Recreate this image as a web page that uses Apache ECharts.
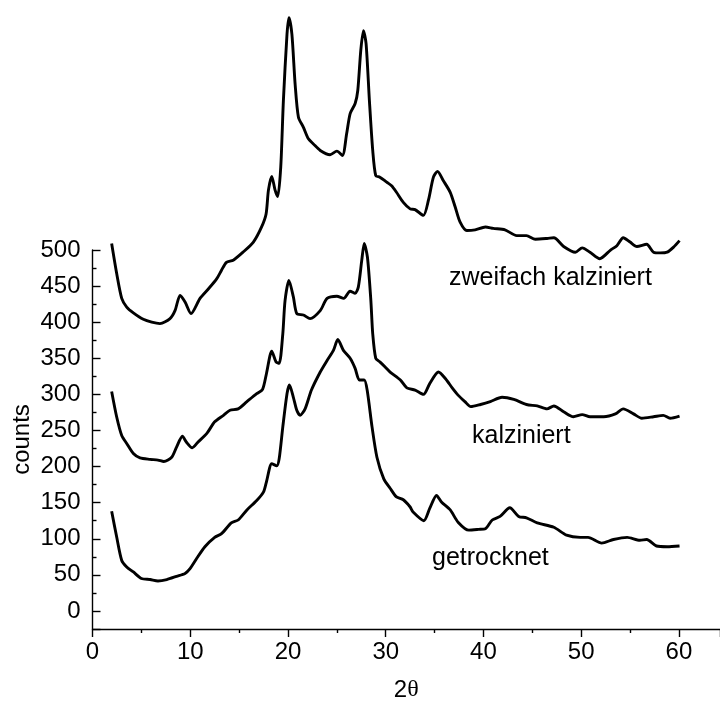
<!DOCTYPE html>
<html>
<head>
<meta charset="utf-8">
<script src="https://cdn.jsdelivr.net/npm/echarts@6/dist/echarts.min.js"></script>
<style>html,body{margin:0;padding:0;background:#fff}#c{width:720px;height:702px}</style>
</head>
<body>
<div id="c"></div>
<script>
// ---- data ----
const xZweifach = [1.96, 2.48, 2.99, 3.5, 4.18, 5.2, 6.06, 6.9, 7.93, 8.44, 8.96, 9.47, 10.08, 11.0, 11.85, 12.7, 13.2, 13.7, 14.4, 15.4, 16.46, 17.3, 17.76, 18.0, 18.34, 18.68, 18.95, 19.26, 19.53, 19.9, 20.1, 20.4, 20.73, 21.07, 21.58, 22.09, 22.6, 23.3, 24.3, 25.0, 25.57, 26.0, 26.36, 26.87, 27.14, 27.45, 27.72, 27.99, 28.33, 28.67, 28.98, 29.4, 30.1, 30.6, 31.1, 31.8, 32.5, 33.0, 33.86, 34.37, 34.88, 35.3, 35.9, 36.6, 37.1, 37.6, 38.3, 39.15, 40.2, 41.0, 42.2, 43.4, 44.4, 45.3, 46.5, 47.2, 48.2, 49.4, 50.1, 50.9, 51.9, 53.0, 53.65, 54.3, 55.0, 55.7, 56.7, 57.4, 58.1, 58.8, 59.45, 60.06];
const yZweifach = [509, 467, 433, 421, 413, 404, 400, 398, 405, 416, 437, 428, 412, 433, 446, 460, 472, 483, 486, 497, 511, 532, 550, 583, 602, 583, 574, 615, 707, 799, 822, 799, 730, 684, 670, 654, 647, 638, 632, 637, 631, 661, 689, 703, 721, 777, 804, 786, 707, 638, 603, 601, 594, 589, 580, 566, 557, 556, 548, 569, 601, 609, 596, 580, 560, 539, 527, 528, 532, 530, 528, 520, 520, 515, 516, 517, 505, 497, 503, 497, 488, 500, 506, 517, 511, 505, 508, 497, 496, 497, 504, 513];

const xKalziniert = [1.96, 2.47, 2.99, 3.5, 4.18, 4.86, 5.9, 6.7, 7.3, 8.1, 8.6, 9.2, 9.6, 10.2, 10.8, 11.7, 12.5, 13.4, 14.07, 14.9, 15.8, 16.8, 17.4, 17.8, 18.34, 18.78, 19.1, 19.47, 19.7, 20.1, 20.55, 20.9, 21.58, 22.26, 23.3, 24.0, 25.0, 25.7, 26.35, 26.87, 27.2, 27.55, 27.8, 28.13, 28.48, 28.67, 28.98, 29.4, 29.94, 30.45, 31.5, 32.16, 33.0, 33.86, 34.5, 35.4, 36.1, 36.8, 37.4, 38.1, 38.7, 39.7, 40.7, 41.9, 43.1, 44.4, 45.5, 46.5, 47.2, 48.2, 49.2, 50.1, 50.9, 52.3, 53.5, 54.3, 55.35, 56.2, 57.4, 58.4, 59.1, 60.06];
const yKalziniert = [304, 269, 243, 232, 218, 212, 210, 209, 207, 213, 227, 242, 234, 226, 234, 246, 262, 271, 278, 280, 290, 301, 307, 329, 360, 345, 343, 384, 430, 458, 435, 412, 410, 405, 416, 433, 436, 433, 443, 440, 449, 486, 509, 490, 430, 384, 350, 345, 338, 331, 320, 309, 306, 300, 315, 331, 322, 309, 299, 290, 283, 286, 290, 296, 293, 286, 284, 280, 284, 276, 269, 272, 269, 269, 273, 280, 273, 267, 269, 271, 267, 270];

const xGetrocknet = [1.96, 2.48, 2.99, 3.5, 4.18, 5.0, 5.9, 6.7, 7.6, 8.6, 9.47, 10.0, 10.67, 11.5, 12.5, 13.2, 14.2, 14.9, 15.8, 16.8, 17.5, 17.8, 18.34, 18.85, 19.1, 19.47, 19.9, 20.15, 20.55, 20.9, 21.24, 21.75, 22.4, 23.3, 24.0, 24.65, 25.1, 25.67, 26.36, 26.87, 27.3, 27.8, 28.1, 28.6, 29.1, 29.8, 30.45, 31.1, 31.8, 32.5, 32.8, 33.9, 34.5, 35.2, 35.7, 36.6, 37.4, 38.5, 39.5, 40.2, 40.9, 41.7, 42.7, 43.6, 44.4, 45.5, 47.2, 48.5, 49.9, 50.7, 52.1, 53.3, 54.7, 56.0, 56.7, 57.7, 58.8, 60.06];
const yGetrocknet = [138, 102, 70, 61, 54, 45, 43.5, 41.6, 43.5, 48, 52, 59, 73, 89, 102, 107, 122, 126, 140, 153, 165, 179, 204, 201, 211, 255, 301, 313, 296, 278, 271, 280, 306, 331, 347, 361, 376, 361, 350, 336, 320, 320, 306, 255, 213, 183, 170, 158, 154, 144, 137, 125, 142, 160, 151, 140, 123, 112, 113, 114, 126, 131, 143, 131, 129, 122, 116, 105, 102, 102, 94, 99, 102, 98, 99, 90, 89, 90];

const seriesNames = ['zweifach kalziniert', 'kalziniert', 'getrocknet'];
const xTickLabels = [0, 10, 20, 30, 40, 50, 60];
const yTickLabels = [0, 50, 100, 150, 200, 250, 300, 350, 400, 450, 500];

// ---- build ----
function pairs(xs, ys) { return xs.map((x, i) => [x, ys[i]]); }
const FONT = 'Liberation Sans, Arial, sans-serif';
const chart = echarts.init(document.getElementById('c'), null, { renderer: 'canvas' });

const lineStyle = { color: '#000', width: 2.9 };
function mkSeries(name, xs, ys) {
  return {
    name, type: 'line', xAxisIndex: 0, yAxisIndex: 0,
    data: pairs(xs, ys), showSymbol: false, symbol: 'none',
    smooth: 0.25, lineStyle, clip: false, silent: true
  };
}

chart.setOption({
  animation: false,
  backgroundColor: '#fff',
  grid: [
    { left: 92.5, right: 0, top: 1, bottom: 73, containLabel: false, outerBoundsMode: 'none' },
    { left: 92.5, right: 0, top: 250, bottom: 73, containLabel: false, outerBoundsMode: 'none' }
  ],
  xAxis: [
    {
      gridIndex: 0, type: 'value', min: 0, max: 64.2, interval: 10,
      name: '{a|2}{b|θ}', nameLocation: 'middle', nameGap: 49, nameMoveOverlap: false,
      nameTextStyle: { rich: { a: { fontSize: 24, fontFamily: FONT, color: '#000' }, b: { fontSize: 24, fontFamily: 'Liberation Serif, serif', color: '#000' } } },
      axisLine: { show: true, onZero: false, lineStyle: { color: '#000', width: 1.4 } },
      axisTick: { show: true, inside: false, length: 8, lineStyle: { color: '#000', width: 1.4 } },
      minorTick: { show: true, splitNumber: 2, length: 4, lineStyle: { color: '#000', width: 1.4 } },
      axisLabel: {
        margin: 11, fontSize: 24, fontFamily: FONT, color: '#000',
        formatter: v => (xTickLabels.indexOf(Math.round(v * 1000) / 1000) >= 0 ? String(v) : '')
      },
      splitLine: { show: false }, minorSplitLine: { show: false }
    },
    { gridIndex: 1, type: 'value', min: 0, max: 64.2, show: false }
  ],
  yAxis: [
    { gridIndex: 0, type: 'value', min: -25, max: 845, show: false, splitLine: { show: false } },
    {
      gridIndex: 1, type: 'value', min: -25, max: 500, splitNumber: 10,
      name: 'counts', nameLocation: 'middle', nameGap: 58, nameMoveOverlap: false,
      nameTextStyle: { fontSize: 24, fontFamily: FONT, color: '#000' },
      axisLine: { show: true, onZero: false, lineStyle: { color: '#000', width: 1.4 } },
      axisTick: { show: true, inside: true, length: 8, lineStyle: { color: '#000', width: 1.4 } },
      minorTick: { show: true, splitNumber: 2, length: 4, lineStyle: { color: '#000', width: 1.4 } },
      axisLabel: {
        margin: 12, fontSize: 24, fontFamily: FONT, color: '#000',
        formatter: v => (yTickLabels.indexOf(Math.round(v)) >= 0 && v >= 0 ? String(Math.round(v)) : '')
      },
      splitLine: { show: false }, minorSplitLine: { show: false }
    }
  ],
  graphic: [
    { type: 'text', left: 449, top: 266, style: { text: seriesNames[0], font: '25px ' + FONT, fill: '#000' } },
    { type: 'text', left: 472, top: 424, style: { text: seriesNames[1], font: '25px ' + FONT, fill: '#000' } },
    { type: 'text', left: 432, top: 546, style: { text: seriesNames[2], font: '25px ' + FONT, fill: '#000' } }
  ],
  series: [
    mkSeries(seriesNames[0], xZweifach, yZweifach),
    mkSeries(seriesNames[1], xKalziniert, yKalziniert),
    mkSeries(seriesNames[2], xGetrocknet, yGetrocknet)
  ]
});
</script>
</body>
</html>
